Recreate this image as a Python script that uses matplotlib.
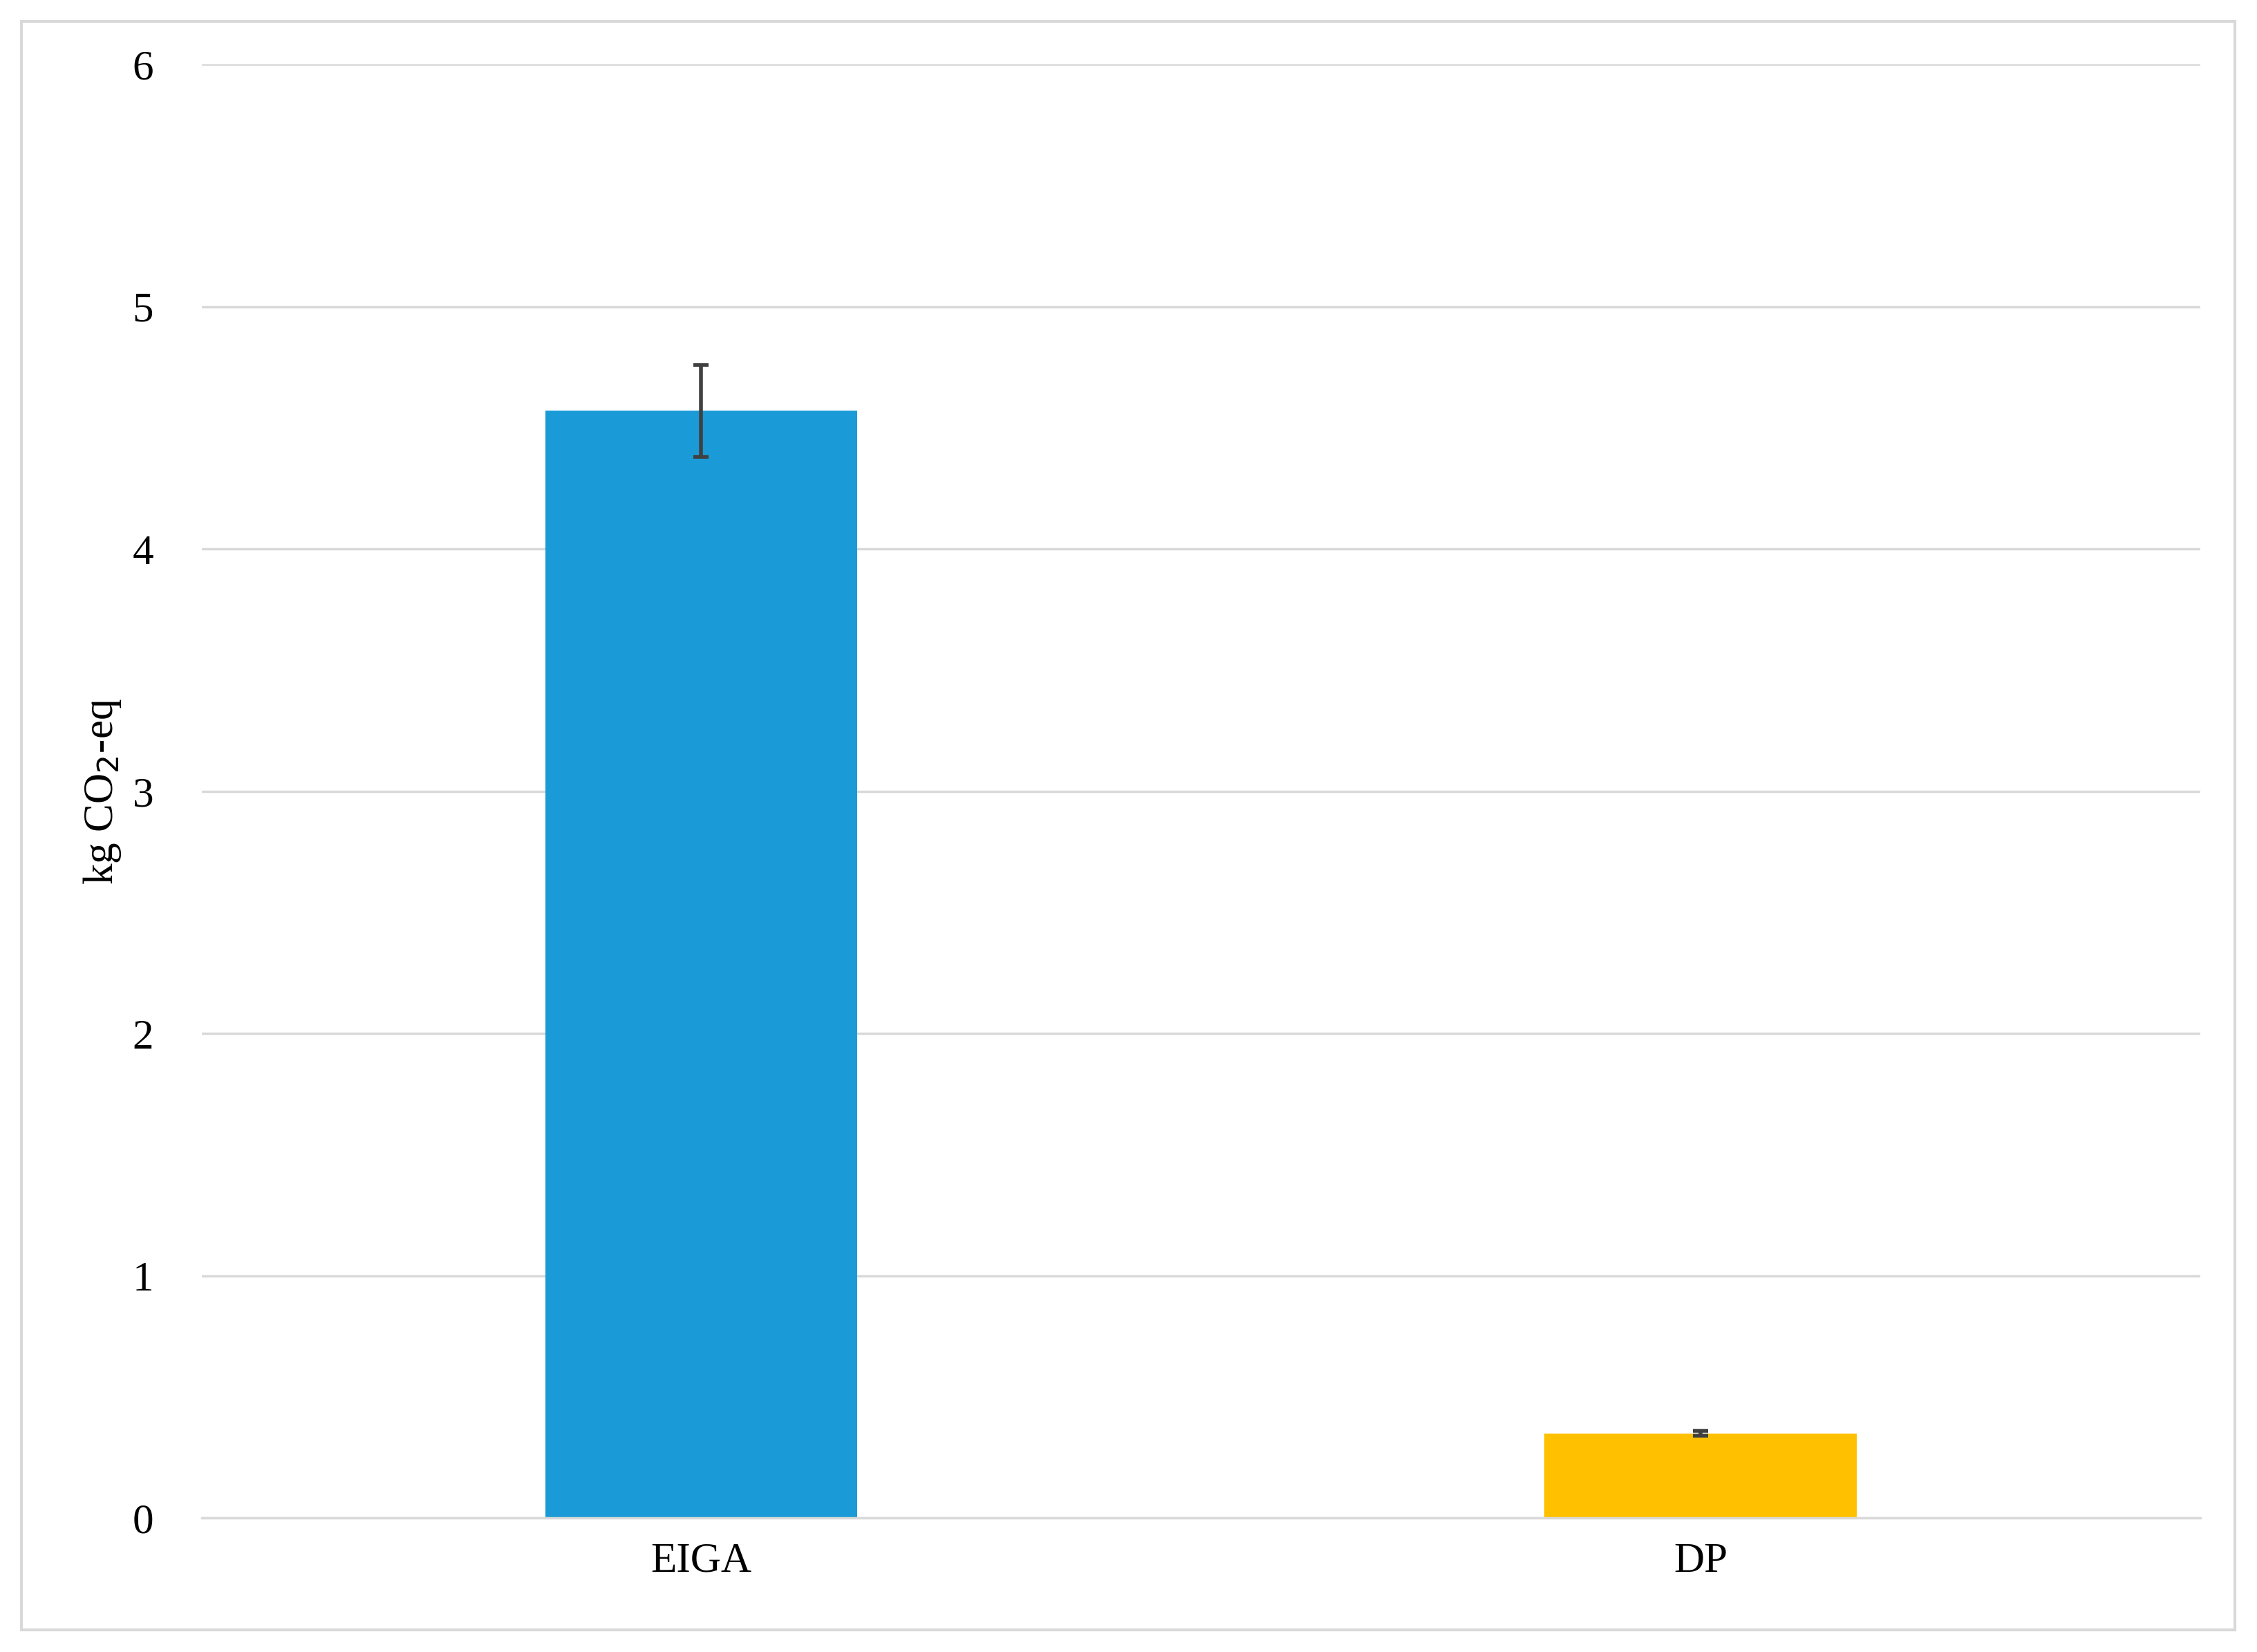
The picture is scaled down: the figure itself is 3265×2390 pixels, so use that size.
import matplotlib
matplotlib.use("Agg")
import matplotlib.pyplot as plt
from matplotlib.patches import Rectangle

categories = ["EIGA", "DP"]
values = [4.57, 0.35]
errors = [0.19, 0.01]
colors = ["#1A9BD7", "#FFC000"]

plt.rcParams['font.family'] = ['Liberation Serif', 'DejaVu Serif']
fig = plt.figure(figsize=(32.66, 23.90), dpi=100)
ax = fig.add_axes([0.0893, 0.081, 0.8852, 0.880])
x = list(range(len(categories)))
ax.bar(x, values, width=0.3125, color=colors, zorder=2,
       yerr=errors, error_kw=dict(ecolor="#404040", elinewidth=4, capsize=8, capthick=4, zorder=3))
ax.set_xlim(-0.5, 1.5)
ax.set_ylim(0, 6)
ax.set_yticks(range(7))
ax.yaxis.grid(True, color="#D9D9D9", linewidth=2.5, zorder=0)
ax.set_axisbelow(True)
for s in ["top", "right", "left"]:
    ax.spines[s].set_visible(False)
ax.spines["bottom"].set_color("#D9D9D9")
ax.spines["bottom"].set_linewidth(2.5)
ax.set_xticks(x)
ax.set_xticklabels(categories)
ax.tick_params(axis="both", length=0, labelsize=44, pad=25)
ax.tick_params(axis="y", pad=50)
ax.set_ylabel("kg CO$_2$-eq", fontsize=44, labelpad=10)
fig.patches.append(Rectangle((0.0096, 0.0135), 0.9802, 0.9735, transform=fig.transFigure,
                             fill=False, edgecolor="#D9D9D9", linewidth=3))
fig.savefig("out.png", dpi=100)
